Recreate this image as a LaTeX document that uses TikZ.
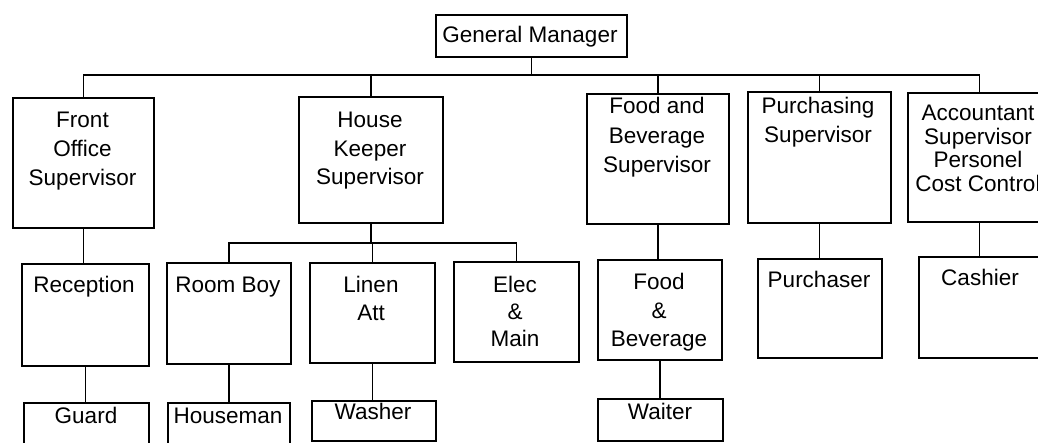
\documentclass[tikz,border=0pt]{standalone}
\usepackage{fontspec}
\setmainfont{Liberation Sans}
\begin{document}
\begin{tikzpicture}[x=1pt,y=-1pt,
  box/.style={draw, rectangle, line width=1.8pt, inner sep=0pt},
  txt/.style={inner sep=0pt, anchor=north, align=center,
    font=\fontsize{22.5}{28.5}\selectfont,
    execute at begin node={\rule{0pt}{20pt}}},
  link/.style={line width=1.6pt}]
\newcommand\bx[5]{\node[box, minimum width={#4-#2}, minimum height={#5-#3}, anchor=north west] (#1) at (#2,#3) {};}
\useasboundingbox (0,0) rectangle (1038,442);
\clip (0,0) rectangle (1038,442);
% boxes
\bx{gm}{435}{14}{626}{56}
\bx{fo}{12}{97}{153}{227}
\bx{hk}{298}{96}{442}{222}
\bx{fb}{586}{93}{728}{223}
\bx{pu}{747}{91}{890}{222}
\bx{ac}{907}{92}{1050}{221}
\bx{rec}{21}{263}{148}{365}
\bx{rb}{166}{262}{290}{363}
\bx{li}{309}{262}{434}{362}
\bx{el}{453}{261}{578}{361}
\bx{fbb}{597}{259}{721}{359}
\bx{pur}{757}{258}{881}{357}
\bx{cas}{918}{256}{1050}{357}
\bx{gu}{23}{402}{148}{470}
\bx{hm}{167}{402}{289}{470}
\bx{wa}{311}{400}{435}{440}
\bx{wt}{597}{398}{722}{440}
% texts
\node[txt] (tgm) at (530,22) {General Manager};
\node[txt, font=\fontsize{22.5}{29}\selectfont] (tfo) at (82.5,112) {Front\\Office\\Supervisor};
\node[txt, font=\fontsize{22.5}{28.5}\selectfont] (thk) at (370,112) {House\\Keeper\\Supervisor};
\node[txt, font=\fontsize{22.5}{29.5}\selectfont] (tfb) at (657,97) {Food and\\Beverage\\Supervisor};
\node[txt, font=\fontsize{22.5}{29}\selectfont] (tpu) at (818,97) {Purchasing\\Supervisor};
\node[txt, font=\fontsize{22.5}{23.5}\selectfont] (tac) at (978,105) {Accountant\\Supervisor\\Personel\\Cost Control};
\node[txt] (trec) at (84,272) {Reception};
\node[txt] (trb) at (228,272) {Room Boy};
\node[txt, font=\fontsize{22.5}{28}\selectfont] (tli) at (371,276) {Linen\\Att};
\node[txt, font=\fontsize{22.5}{27}\selectfont] (tel) at (515,276) {Elec\\\&\\Main};
\node[txt] (tfbb) at (659,273) {Food\\\&\\Beverage};
\node[txt] (tpur) at (819,267) {Purchaser};
\node[txt] (tcas) at (980,265) {Cashier};
\node[txt] (tgu) at (86,403) {Guard};
\node[txt] (thm) at (228,403) {Houseman};
\node[txt] (twa) at (373,399) {Washer};
\node[txt] (twt) at (660,399) {Waiter};
% connectors
\coordinate (bus) at (0,75);
\coordinate (hbus) at (0,243);
\foreach \c in {fo,hk,fb,pu,ac}
  \draw[link] (gm.south) -- (gm.south |- bus) -| (\c.north);
\foreach \c in {rb,li,el}
  \draw[link] (hk.south) -- (hk.south |- hbus) -| (\c.north);
\draw[link] (fo.south) -- (fo.south |- rec.north);
\draw[link] (fb.south) -- (fb.south |- fbb.north);
\draw[link] (pu.south) -- (pu.south |- pur.north);
\draw[link] (ac.south) -- (ac.south |- cas.north);
\draw[link] (rec.south) -- (rec.south |- gu.north);
\draw[link] (rb.south) -- (rb.south |- hm.north);
\draw[link] (li.south) -- (li.south |- wa.north);
\draw[link] (fbb.south) -- (fbb.south |- wt.north);
\end{tikzpicture}
\end{document}
